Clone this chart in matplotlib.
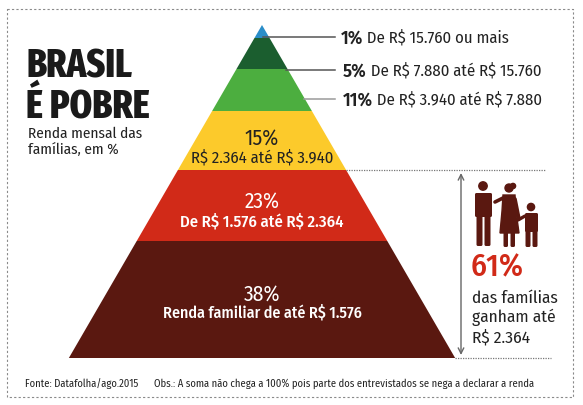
import matplotlib
matplotlib.use("Agg")
import matplotlib.pyplot as plt
from matplotlib.patches import Polygon, Rectangle, Circle, FancyBboxPatch

plt.rcParams["text.parse_math"] = False

# income brackets, top of the pyramid first
shares = [1, 5, 11, 15, 23, 38]
ranges = ["De R$ 15.760 ou mais",
          "De R$ 7.880 até R$ 15.760",
          "De R$ 3.940 até R$ 7.880",
          "R$ 2.364 até R$ 3.940",
          "De R$ 1.576 até R$ 2.364",
          "Renda familiar de até R$ 1.576"]
colors = ["#2a8dc8", "#1b5e2f", "#4cae3f", "#fcca2b", "#d12a18", "#5a1810"]
poor_share = 61
poor_limit = "R$ 2.364"

title_lines = ["BRASIL", "É POBRE"]
subtitle = "Renda mensal das\nfamílias, em %"
source = "Fonte: Datafolha/ago.2015"
note = "Obs.: A soma não chega a 100% pois parte dos entrevistados se nega a declarar a renda"

FONT = "Fira Sans Condensed"
BROWN = "#5a1810"

# layout (pixels, y going down)
apex_x, apex_y = 262, 26
slope = 0.58
band_edges = [26, 39, 70, 112, 171, 242, 359]

fig = plt.figure(figsize=(5.83, 4.06), dpi=100)
ax = fig.add_axes([0, 0, 1, 1])
ax.set_xlim(0, 583)
ax.set_ylim(406, 0)
ax.axis("off")


def half_width(y):
    return (y - apex_y) * slope


# pyramid bands
for i, c in enumerate(colors):
    y0, y1 = band_edges[i], band_edges[i + 1]
    pts = [(apex_x - half_width(y0), y0), (apex_x + half_width(y0), y0),
           (apex_x + half_width(y1), y1), (apex_x - half_width(y1), y1)]
    ax.add_patch(Polygon(pts, closed=True, facecolor=c, edgecolor="none"))

# small bands labelled to the right with leader lines
leader_y = [38, 71, 100]
leader_x0 = [263, apex_x + half_width(71) - 2, apex_x + half_width(100) - 1]
leader_col = ["#555555", "#555555", "#9a9a9a"]
text_x = [341, 343, 343]
for i in range(3):
    ax.plot([leader_x0[i], 335], [leader_y[i], leader_y[i]], color=leader_col[i], lw=1.1)
    t = ax.text(text_x[i], leader_y[i], f"{shares[i]}%", fontsize=13.5, family=FONT,
                fontweight="semibold", color="#222222", va="center", ha="left")
    ax.annotate(" " + ranges[i], xycoords=t, xy=(1, 0.5), va="center", ha="left",
                fontsize=12, family=FONT, color="#222222")

# labels inside the three bottom bands
inner = [(3, 138, 158, "#222222", "normal", 12),
         (4, 201, 222, "white", "medium", 12),
         (5, 294, 313, "white", "medium", 11.5)]
for idx, yp, yr, col, w, fs in inner:
    ax.text(apex_x, yp, f"{shares[idx]}%", fontsize=15.5, family=FONT, color=col,
            ha="center", va="center")
    ax.text(apex_x, yr, ranges[idx], fontsize=fs, family=FONT, color=col,
            fontweight=w, ha="center", va="center")

# dotted guides and the 61% bracket
ax.plot([apex_x + half_width(171), 545], [171, 171], color="#777777", lw=0.9, ls=(0, (1, 1)))
ax.plot([apex_x + half_width(359), 551], [359, 359], color="#777777", lw=0.9, ls=(0, (1, 1)))
ax.annotate("", xy=(461, 174), xytext=(461, 356),
            arrowprops=dict(arrowstyle="<->", color="#666666", lw=1.0,
                            mutation_scale=10, shrinkA=0, shrinkB=0))


# family icon
def limb(x, y, w, h):
    ax.add_patch(FancyBboxPatch((x, y), w, h, boxstyle="round,pad=0,rounding_size=1.5",
                                facecolor=BROWN, edgecolor="none"))


# man
ax.add_patch(Circle((483, 187), 4.2, color=BROWN))
limb(475, 194, 17, 24)
limb(476.5, 215, 6, 32)
limb(484.5, 215, 6, 32)
# woman
ax.add_patch(Circle((509, 189), 4.0, color=BROWN))
ax.add_patch(Circle((513, 187), 2.6, color=BROWN))
ax.add_patch(Polygon([(503, 196), (515, 196), (516, 212), (519, 234), (500, 234), (502, 212)],
                     closed=True, color=BROWN))
limb(503.5, 230, 4.5, 18)
limb(510.5, 230, 4.5, 18)
ax.plot([503, 495], [199, 203], color=BROWN, lw=2.6, solid_capstyle="round")
ax.plot([515, 519], [200, 220], color=BROWN, lw=2.6, solid_capstyle="round")
# child
ax.add_patch(Circle((531, 208), 3.6, color=BROWN))
limb(525, 214, 13, 19)
limb(525.5, 230, 5, 18)
limb(532.5, 230, 5, 18)
ax.plot([525, 518], [217, 221], color=BROWN, lw=2.4, solid_capstyle="round")

ax.text(471, 268, f"{poor_share}%", fontsize=22.5, family=FONT, fontweight="medium",
        color="#d12a18", ha="left", va="center")
ax.text(472, 318, f"das famílias\nganham até\n{poor_limit}", fontsize=12.5, family=FONT,
        color="#222222", ha="left", va="center", linespacing=1.2)

# title block
for line, base in zip(title_lines, [78, 117]):
    ax.text(26, base, line, fontsize=28, family="Fira Sans Extra Condensed",
            fontweight="heavy", color="#1a1a1a", ha="left", va="baseline")
ax.text(28, 142, subtitle, fontsize=11, family=FONT, color="#222222",
        ha="left", va="center", linespacing=1.2)

# footer
ax.text(25, 384, source, fontsize=7.6, family=FONT, color="#222222", ha="left", va="center")
ax.text(154, 384, note, fontsize=7.6, family=FONT, color="#222222", ha="left", va="center")

# dashed frame
ax.add_patch(Rectangle((7, 10), 566, 388, facecolor="none", edgecolor="#8a8a8a",
                       lw=0.8, ls=(0, (2, 2))))

fig.savefig("out.png", dpi=100)
